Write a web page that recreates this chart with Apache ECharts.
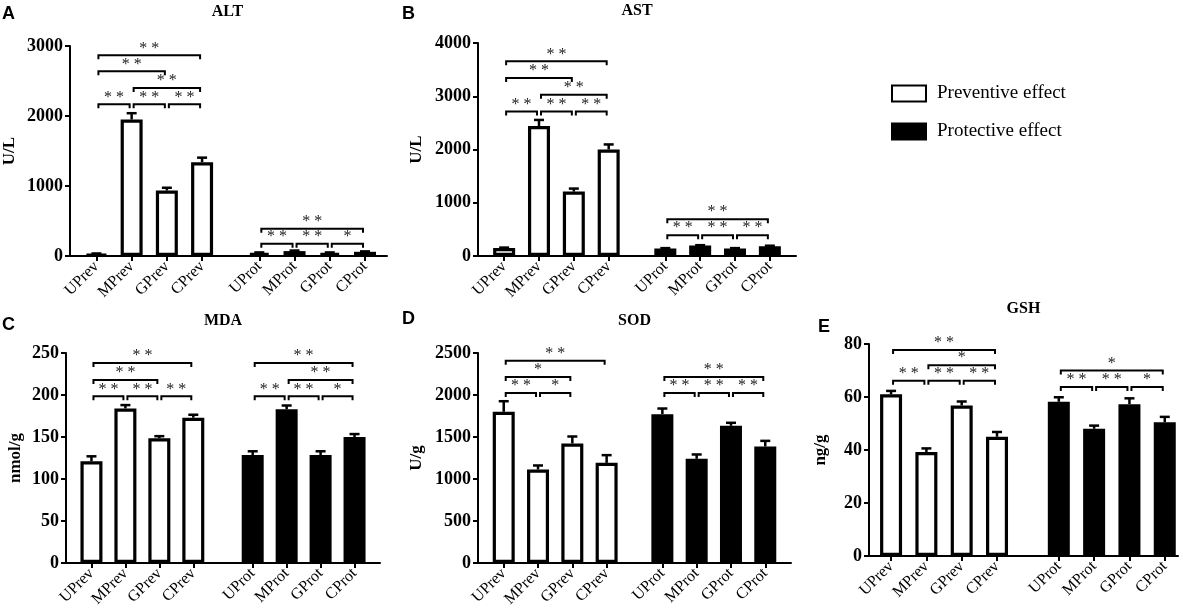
<!DOCTYPE html>
<html>
<head>
<meta charset="utf-8">
<script src="https://cdn.jsdelivr.net/npm/echarts@6/dist/echarts.min.js"></script>
<style>
  html, body { margin: 0; padding: 0; background: #fff; }
  #chart { width: 1192px; height: 611px; }
</style>
</head>
<body>
<div id="chart"></div>
<script>
// group names
const groupsPrev = ['UPrev', 'MPrev', 'GPrev', 'CPrev'];
const groupsProt = ['UProt', 'MProt', 'GProt', 'CProt'];

// ALT (U/L)
const altPrev = [28, 1950, 935, 1340];
const altPrevErr = [8, 90, 40, 65];
const altProt = [45, 70, 45, 60];
const altProtErr = [6, 8, 6, 6];
const altTicks = [0, 3000, 1000];
const altSig = [
  ['UPrev', 'CPrev', 2867, '**'], ['UPrev', 'GPrev', 2638, '**'], ['MPrev', 'CPrev', 2400, '**'],
  ['UPrev', 'MPrev', 2167, '**'], ['MPrev', 'GPrev', 2167, '**'], ['GPrev', 'CPrev', 2167, '**'],
  ['UProt', 'CProt', 390, '**'], ['UProt', 'MProt', 176, '**'], ['MProt', 'GProt', 176, '**'], ['GProt', 'CProt', 176, '*']
];

// AST (U/L)
const astPrev = [150, 2440, 1210, 2000];
const astPrevErr = [8, 115, 56, 95];
const astProt = [140, 195, 140, 185];
const astProtErr = [8, 8, 8, 8];
const astTicks = [0, 4000, 1000];
const astSig = [
  ['UPrev', 'CPrev', 3655, '**'], ['UPrev', 'GPrev', 3341, '**'], ['MPrev', 'CPrev', 3027, '**'],
  ['UPrev', 'MPrev', 2713, '**'], ['MPrev', 'GPrev', 2713, '**'], ['GPrev', 'CPrev', 2713, '**'],
  ['UProt', 'CProt', 691, '**'], ['UProt', 'MProt', 389, '**'], ['MProt', 'GProt', 389, '**'], ['GProt', 'CProt', 389, '**']
];

// MDA (nmol/g)
const mdaPrev = [121, 184, 148.5, 173];
const mdaPrevErr = [6, 4, 2.5, 3.5];
const mdaProt = [128.5, 183, 128.5, 150];
const mdaProtErr = [4.5, 4.5, 4.5, 3.5];
const mdaTicks = [0, 250, 50];
const mdaSig = [
  ['UPrev', 'CPrev', 238, '**'], ['UPrev', 'GPrev', 218, '**'],
  ['UPrev', 'MPrev', 198.4, '**'], ['MPrev', 'GPrev', 198.4, '**'], ['GPrev', 'CPrev', 198.4, '**'],
  ['UProt', 'CProt', 238, '**'], ['MProt', 'CProt', 218, '**'],
  ['UProt', 'MProt', 198.4, '**'], ['MProt', 'GProt', 198.4, '**'], ['GProt', 'CProt', 198.4, '*']
];

// SOD (U/g)
const sodPrev = [1800, 1113, 1423, 1192];
const sodPrevErr = [126, 48, 83, 92];
const sodProt = [1772, 1240, 1633, 1387];
const sodProtErr = [67, 52, 36, 67];
const sodTicks = [0, 2500, 500];
const sodSig = [
  ['UPrev', 'CPrev', 2409, '**'], ['UPrev', 'GPrev', 2214, '*'],
  ['UPrev', 'MPrev', 2024, '**'], ['MPrev', 'GPrev', 2024, '*'],
  ['UProt', 'CProt', 2214, '**'],
  ['UProt', 'MProt', 2024, '**'], ['MProt', 'GProt', 2024, '**'], ['GProt', 'CProt', 2024, '**']
];

// GSH (ng/g)
const gshPrev = [61.0, 39.2, 56.8, 45.0];
const gshPrevErr = [1.3, 1.4, 1.5, 1.8];
const gshProt = [58.2, 48.0, 57.3, 50.5];
const gshProtErr = [1.7, 1.2, 2.2, 2.0];
const gshTicks = [0, 80, 20];
const gshSig = [
  ['UPrev', 'CPrev', 77.75, '**'], ['MPrev', 'CPrev', 72, '*'],
  ['UPrev', 'MPrev', 66.1, '**'], ['MPrev', 'GPrev', 66.1, '**'], ['GPrev', 'CPrev', 66.1, '**'],
  ['UProt', 'CProt', 70, '*'],
  ['UProt', 'MProt', 63.75, '**'], ['MProt', 'GProt', 63.75, '**'], ['GProt', 'CProt', 63.75, '*']
];

const SERIF = 'Liberation Serif';
const SANS = 'Liberation Sans';

// layout of each panel: grid box and category padding (in 1/8 of a bar step)
const panels = [
  { letter: 'A', title: 'ALT', unit: 'U/L', prev: altPrev, prevErr: altPrevErr, prot: altProt, protErr: altProtErr, ticks: altTicks, sig: altSig,
    grid: { left: 68, right: 805, top: 46, bottom: 355 }, pad: [6, 13, 5], nameGap: 52, letterPos: [2, 5], titleTop: 4 },
  { letter: 'B', title: 'AST', unit: 'U/L', prev: astPrev, prevErr: astPrevErr, prot: astProt, protErr: astProtErr, ticks: astTicks, sig: astSig,
    grid: { left: 478, right: 396, top: 43, bottom: 355 }, pad: [6, 13, 6], nameGap: 53, letterPos: [402, 5], titleTop: 3 },
  { letter: 'C', title: 'MDA', unit: 'nmol/g', prev: mdaPrev, prevErr: mdaPrevErr, prot: mdaProt, protErr: mdaProtErr, ticks: mdaTicks, sig: mdaSig,
    grid: { left: 66, right: 812, top: 353, bottom: 48 }, pad: [6, 14, 6], nameGap: 42, letterPos: [2, 316], titleTop: 313 },
  { letter: 'D', title: 'SOD', unit: 'U/g', prev: sodPrev, prevErr: sodPrevErr, prot: sodProt, protErr: sodProtErr, ticks: sodTicks, sig: sodSig,
    grid: { left: 478, right: 401, top: 353, bottom: 48 }, pad: [6, 13, 6], nameGap: 53, letterPos: [402, 310], titleTop: 313 },
  { letter: 'E', title: 'GSH', unit: 'ng/g', prev: gshPrev, prevErr: gshPrevErr, prot: gshProt, protErr: gshProtErr, ticks: gshTicks, sig: gshSig,
    grid: { left: 869, right: 14, top: 344, bottom: 55 }, pad: [5, 14, 3], nameGap: 40, letterPos: [818, 318], titleTop: 301 }
];

function buildCats(pad) {
  const cats = [];
  const idx = {};
  for (let i = 0; i < pad[0]; i++) cats.push('');
  groupsPrev.forEach((g, k) => {
    idx[g] = cats.length; cats.push(g);
    if (k < 3) for (let i = 0; i < 7; i++) cats.push('');
  });
  for (let i = 0; i < pad[1] - 1; i++) cats.push('');
  groupsProt.forEach((g, k) => {
    idx[g] = cats.length; cats.push(g);
    if (k < 3) for (let i = 0; i < 7; i++) cats.push('');
  });
  for (let i = 0; i < pad[2]; i++) cats.push('');
  return { cats, idx };
}

const named = (index, value) => value !== '';

const grids = [], xAxes = [], yAxes = [], series = [], titles = [];

panels.forEach((p, k) => {
  const { cats, idx } = buildCats(p.pad);
  grids.push(Object.assign({}, p.grid));
  xAxes.push({
    gridIndex: k, type: 'category', data: cats, boundaryGap: false,
    axisLine: { lineStyle: { color: '#000', width: 2 } },
    axisTick: { interval: named, length: 5, lineStyle: { color: '#000', width: 2 } },
    axisLabel: { interval: named, rotate: 45, margin: 8, color: '#000', fontFamily: SERIF, fontSize: 16 },
    splitLine: { show: false }
  });
  yAxes.push({
    gridIndex: k, type: 'value', min: p.ticks[0], max: p.ticks[1], interval: p.ticks[2],
    name: p.unit, nameLocation: 'middle', nameGap: p.nameGap, nameRotate: 90,
    nameTextStyle: { color: '#000', fontFamily: SERIF, fontWeight: 'bold', fontSize: 17 },
    axisLine: { show: true, lineStyle: { color: '#000', width: 2 } },
    axisTick: { show: true, length: 5, lineStyle: { color: '#000', width: 2 } },
    axisLabel: { margin: 7, color: '#000', fontFamily: SERIF, fontWeight: 'bold', fontSize: 18,
      formatter: v => String(v) },
    splitLine: { show: false }
  });

  const prevData = cats.map(() => '-');
  const protData = cats.map(() => '-');
  const errData = [];
  groupsPrev.forEach((g, i) => { prevData[idx[g]] = p.prev[i]; errData.push([idx[g], p.prev[i], p.prevErr[i]]); });
  groupsProt.forEach((g, i) => { protData[idx[g]] = p.prot[i]; errData.push([idx[g], p.prot[i], p.protErr[i]]); });

  series.push({
    name: 'Preventive effect', type: 'bar', xAxisIndex: k, yAxisIndex: k,
    barWidth: 22, barGap: '-100%', data: prevData,
    itemStyle: { color: '#fff', borderColor: '#000', borderWidth: 3.2 }
  });
  series.push({
    name: 'Protective effect', type: 'bar', xAxisIndex: k, yAxisIndex: k,
    barWidth: 22, barGap: '-100%', data: protData,
    itemStyle: { color: '#000', borderColor: '#000', borderWidth: 3.2 }
  });
  // error bars (upper whisker only)
  series.push({
    type: 'custom', xAxisIndex: k, yAxisIndex: k, z: 5, clip: false,
    encode: { x: 0, y: 1 }, data: errData,
    renderItem: (params, api) => {
      const a = api.coord([api.value(0), api.value(1)]);
      const b = api.coord([api.value(0), api.value(1) + api.value(2)]);
      const st = { stroke: '#000', lineWidth: 2.5 };
      return { type: 'group', children: [
        { type: 'line', shape: { x1: a[0], y1: a[1], x2: b[0], y2: b[1] }, style: st },
        { type: 'line', shape: { x1: b[0] - 5, y1: b[1], x2: b[0] + 5, y2: b[1] }, style: st }
      ] };
    }
  });
  // significance brackets
  const sig = p.sig;
  series.push({
    type: 'custom', xAxisIndex: k, yAxisIndex: k, z: 6, clip: false,
    encode: { x: [0, 1], y: 2 },
    data: sig.map(s => [idx[s[0]], idx[s[1]], s[2]]),
    renderItem: (params, api) => {
      const a = api.coord([api.value(0), api.value(2)]);
      const b = api.coord([api.value(1), api.value(2)]);
      const x1 = a[0] + 2, x2 = b[0] - 2, y = a[1];
      const label = sig[params.dataIndex][3].split('').join(' ');
      return { type: 'group', children: [
        { type: 'polyline', shape: { points: [[x1, y + 4], [x1, y], [x2, y], [x2, y + 4]] },
          style: { stroke: '#000', lineWidth: 2, fill: null } },
        { type: 'text', x: (x1 + x2) / 2, y: y + 1,
          style: { text: label, fill: '#222', font: '16px ' + SERIF, textAlign: 'center', textVerticalAlign: 'bottom' } }
      ] };
    }
  });

  titles.push({
    text: p.letter, left: p.letterPos[0], top: p.letterPos[1], padding: 0,
    textStyle: { color: '#000', fontFamily: SANS, fontWeight: 'bold', fontSize: 18 }
  });
  const cx = (p.grid.left + (1192 - p.grid.right)) / 2;
  titles.push({
    text: p.title, left: cx, top: p.titleTop, padding: 0, textAlign: 'center',
    textStyle: { color: '#000', fontFamily: SERIF, fontWeight: 'bold', fontSize: 16 }
  });
});

const chart = echarts.init(document.getElementById('chart'));
chart.setOption({
  animation: false,
  backgroundColor: '#fff',
  title: titles,
  legend: {
    data: ['Preventive effect', 'Protective effect'],
    orient: 'vertical', left: 891, top: 84, padding: 0,
    icon: 'rect', itemWidth: 34, itemHeight: 16, itemGap: 19,
    textStyle: { color: '#000', fontFamily: SERIF, fontSize: 19, padding: [0, 0, 0, 6] }
  },
  grid: grids,
  xAxis: xAxes,
  yAxis: yAxes,
  series: series
});
</script>
</body>
</html>
